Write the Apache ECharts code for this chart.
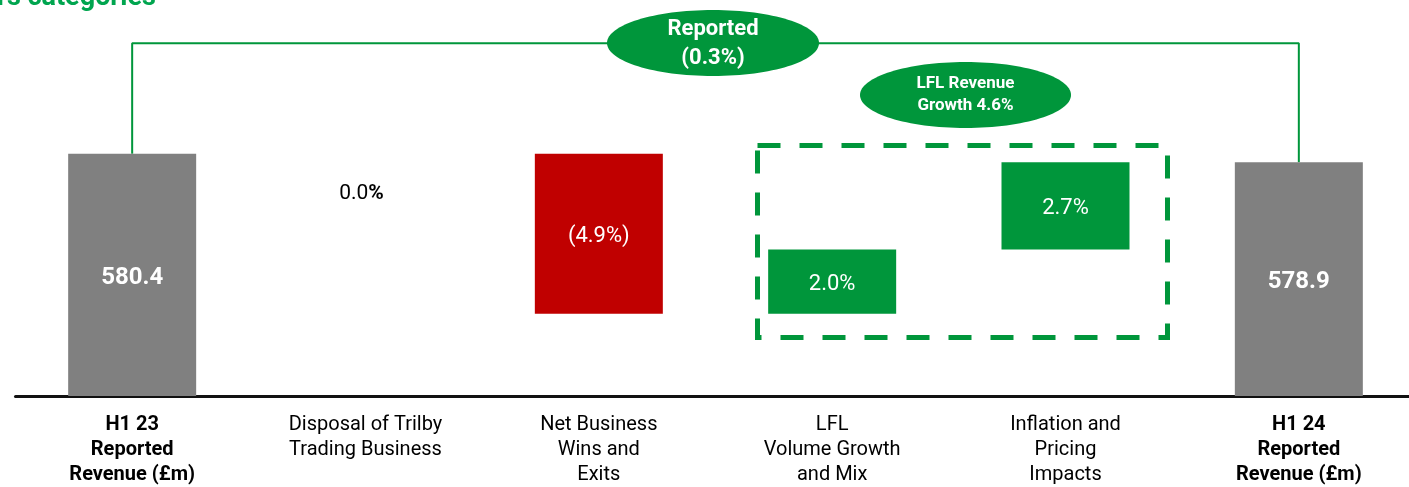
<!DOCTYPE html>
<html>
<head>
<meta charset="utf-8">
<script src="https://cdn.jsdelivr.net/npm/echarts@6/dist/echarts.min.js"></script>
<style>
  html, body { margin: 0; padding: 0; background: #fff; overflow: hidden; }
  #main { width: 1420px; height: 487px; }
</style>
</head>
<body>
<div id="main"></div>
<script>
// bridge data (£m)
var categories = [
  'H1 23\nReported\nRevenue (£m)',
  'Disposal of Trilby\nTrading Business',
  'Net Business\nWins and\nExits',
  'LFL\nVolume Growth\nand Mix',
  'Inflation and\nPricing\nImpacts',
  'H1 24\nReported\nRevenue (£m)'
];
var barKinds = ['total', 'delta', 'delta', 'delta', 'delta', 'total'];
var barValues = [580.4, 0.0, -28.4, 11.4, 15.5, 578.9];
var barLabels = ['580.4', '0.0%', '(4.9%)', '2.0%', '2.7%', '578.9'];
var reportedLabel = 'Reported\n(0.3%)';
var lflLabel = 'LFL Revenue\nGrowth 4.6%';
var bracketLevel = 600;

var GREEN = '#00963b';
var RED = '#c00000';
var GREY = '#808080';
var FONT = 'Roboto';

// waterfall: invisible base + visible part
var baseData = [];
var showData = [];
var running = 0;
for (var i = 0; i < barValues.length; i++) {
  var v = barValues[i];
  var color, base, h;
  if (barKinds[i] === 'total') {
    base = 0; h = v; running = v; color = GREY;
  } else if (v < 0) {
    running = running + v; base = running; h = -v; color = RED;
  } else {
    base = running; h = v; running = running + v; color = GREEN;
  }
  baseData.push(base);
  var item = {
    value: h,
    itemStyle: { color: color },
    label: {
      show: true,
      position: 'inside',
      offset: [0, 3],
      formatter: barLabels[i],
      color: '#fff',
      fontFamily: FONT,
      fontSize: barKinds[i] === 'total' ? 24 : 22,
      fontWeight: barKinds[i] === 'total' ? 'bold' : 'normal'
    }
  };
  if (h === 0) {
    // zero change: label floats under the previous level
    item.label.color = '#000';
    item.label.formatter = '0.0{b|%}';
    item.label.offset = [-4, 40];
    item.label.fontSize = 21;
    item.label.rich = { b: { fontFamily: FONT, fontSize: 21, fontWeight: 'bold', color: '#000' } };
  }
  showData.push(item);
}

var chart = echarts.init(document.getElementById('main'), null, { renderer: 'canvas' });

var option = {
  backgroundColor: '#fff',
  animation: false,
  grid: { left: 15.5, width: 1400, top: 0, bottom: 90.3, containLabel: false },
  xAxis: {
    type: 'category',
    data: categories,
    axisLine: { show: true, lineStyle: { color: '#111', width: 3 } },
    axisTick: { show: false },
    axisLabel: {
      interval: 0,
      margin: 16,
      color: '#000',
      fontFamily: FONT,
      fontSize: 20,
      lineHeight: 25,
      formatter: function (val, idx) {
        if (barKinds[idx] === 'total') {
          return val.split('\n').map(function (s) { return '{b|' + s + '}'; }).join('\n');
        }
        return val;
      },
      rich: {
        b: { fontFamily: FONT, fontSize: 20, fontWeight: 'bold', lineHeight: 25, color: '#000' }
      }
    }
  },
  yAxis: {
    type: 'value',
    min: 537.4,
    max: 607.7,
    show: false
  },
  series: [
    {
      name: 'base',
      type: 'bar',
      stack: 'w',
      barWidth: 128,
      itemStyle: { color: 'transparent' },
      silent: true,
      data: baseData
    },
    {
      name: 'change',
      type: 'bar',
      stack: 'w',
      barWidth: 128,
      data: showData
    },
    {
      name: 'bracket',
      type: 'line',
      symbol: 'none',
      silent: true,
      z: 1,
      lineStyle: { color: GREEN, width: 2 },
      data: [[0, barValues[0]], [0, bracketLevel], [5, bracketLevel], [5, barValues[5]]]
    }
  ],
  graphic: [
    {
      type: 'text',
      left: -3,
      top: -15,
      style: { text: 'rs categories', fill: '#00a54f', font: 'bold 27px Roboto' }
    },
    {
      type: 'rect',
      shape: { x: 757.5, y: 145.5, width: 410, height: 192 },
      style: { fill: null, stroke: GREEN, lineWidth: 5, lineDash: [23, 19] },
      z: 10
    },
    {
      type: 'ellipse',
      shape: { cx: 713, cy: 43, rx: 106, ry: 33 },
      style: { fill: GREEN },
      z: 20
    },
    {
      type: 'text',
      x: 713, y: 44,
      style: {
        text: reportedLabel, fill: '#fff', font: 'bold 22px Roboto',
        align: 'center', verticalAlign: 'middle', lineHeight: 29
      },
      z: 21
    },
    {
      type: 'ellipse',
      shape: { cx: 965.5, cy: 95, rx: 105.5, ry: 33 },
      style: { fill: GREEN },
      z: 20
    },
    {
      type: 'text',
      x: 965.5, y: 95,
      style: {
        text: lflLabel, fill: '#fff', font: 'bold 17px Roboto',
        align: 'center', verticalAlign: 'middle', lineHeight: 22
      },
      z: 21
    }
  ]
};

chart.setOption(option);
</script>
</body>
</html>
